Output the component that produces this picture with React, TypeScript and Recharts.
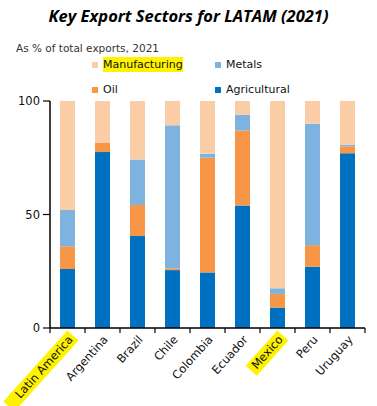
import { Bar, BarChart, XAxis, YAxis } from "recharts"

// Export shares by sector, % of total exports (2021)
const countries = ["Latin America", "Argentina", "Brazil", "Chile", "Colombia", "Ecuador", "Mexico", "Peru", "Uruguay"]
const agricultural = [26, 77.5, 40.5, 25.5, 24.5, 54, 9, 27, 77]
const oil = [10, 4, 13.7, 0.8, 50.5, 33, 6, 9.5, 3]
const metals = [16, 0, 20, 63, 1.8, 7, 2.5, 53.5, 0.7]
const manufacturing = [48, 18.5, 25.8, 10.7, 23.2, 6, 82.5, 10, 19.3]
const yTicks = [0, 50, 100]
const highlighted = ["Latin America", "Mexico"]

const data = countries.map((name, i) => ({
  name,
  agricultural: agricultural[i],
  oil: oil[i],
  metals: metals[i],
  manufacturing: manufacturing[i],
}))

const colors = {
  agricultural: "#0070C0",
  oil: "#F79646",
  metals: "#7FB3DF",
  manufacturing: "#FBCDA6",
}

const legendItems = [
  { label: "Manufacturing", color: colors.manufacturing, left: 92, top: 57, hl: true },
  { label: "Metals", color: colors.metals, left: 215, top: 57, hl: false },
  { label: "Oil", color: colors.oil, left: 92, top: 82, hl: false },
  { label: "Agricultural", color: colors.agricultural, left: 215, top: 82, hl: false },
]

const W = 377
const H = 406
const M = { top: 101, right: 12, left: 0, bottom: 0 }
const Y_W = 50
const STEP = (W - M.right - Y_W) / countries.length

const font = "'DejaVu Sans', Verdana, sans-serif"

function XTick(props: any) {
  const { x, y, payload, index } = props
  const hl = highlighted.includes(payload.value)
  const len = payload.value.length * 6.9
  return (
    <g>
      <line x1={x - STEP / 2} x2={x - STEP / 2} y1={y} y2={y + 5} stroke="#000" strokeWidth={1.2} />
      {index === countries.length - 1 && (
        <line x1={x + STEP / 2} x2={x + STEP / 2} y1={y} y2={y + 5} stroke="#000" strokeWidth={1.2} />
      )}
      <g transform={`translate(${x + 6},${y + 12}) rotate(-48)`}>
        {hl && <rect x={-len - 3} y={-11} width={len + 6} height={15} fill="#FFF200" />}
        <text x={0} y={0} textAnchor="end" fontSize={11.5} fill="#111" fontFamily={font}>
          {payload.value}
        </text>
      </g>
    </g>
  )
}

export default function App() {
  return (
    <div style={{ position: "absolute", left: 0, top: 0, width: W, height: H, background: "#fff" }}>
      <div
        style={{
          position: "absolute",
          left: 0,
          width: W,
          top: 4,
          textAlign: "center",
          fontFamily: "'Open Sans', sans-serif",
          fontWeight: 700,
          fontStyle: "italic",
          fontSize: 16.5,
        }}
      >
        Key Export Sectors for LATAM (2021)
      </div>
      <div style={{ position: "absolute", left: 16, top: 42, fontFamily: font, fontSize: 10.5, color: "#333" }}>
        As % of total exports, 2021
      </div>
      {legendItems.map((it) => (
        <div
          key={it.label}
          style={{
            position: "absolute",
            left: it.left,
            top: it.top,
            display: "flex",
            alignItems: "center",
            fontFamily: font,
            fontSize: 11,
            color: "#111",
          }}
        >
          <span style={{ width: 6, height: 6, background: it.color, marginRight: 5 }} />
          <span style={{ background: it.hl ? "#FFF200" : "transparent", padding: "1px 0" }}>{it.label}</span>
        </div>
      ))}
      <div style={{ position: "absolute", left: 0, top: 0 }}>
        <BarChart width={W} height={H} data={data} margin={M} barSize={15}>
          <YAxis
            domain={[0, 100]}
            ticks={yTicks}
            width={Y_W}
            tickSize={7}
            tickMargin={3}
            axisLine={{ stroke: "#000", strokeWidth: 1.5 }}
            tickLine={{ stroke: "#000", strokeWidth: 1.2 }}
            tick={{ fontSize: 11.5, fill: "#111", fontFamily: font }}
          />
          <XAxis
            dataKey="name"
            height={78}
            interval={0}
            tickSize={0}
            tickMargin={0}
            axisLine={{ stroke: "#000", strokeWidth: 1.5 }}
            tickLine={false}
            tick={<XTick />}
          />
          <Bar dataKey="agricultural" stackId="a" fill={colors.agricultural} isAnimationActive={false} />
          <Bar dataKey="oil" stackId="a" fill={colors.oil} isAnimationActive={false} />
          <Bar dataKey="metals" stackId="a" fill={colors.metals} isAnimationActive={false} />
          <Bar dataKey="manufacturing" stackId="a" fill={colors.manufacturing} isAnimationActive={false} />
        </BarChart>
      </div>
    </div>
  )
}
